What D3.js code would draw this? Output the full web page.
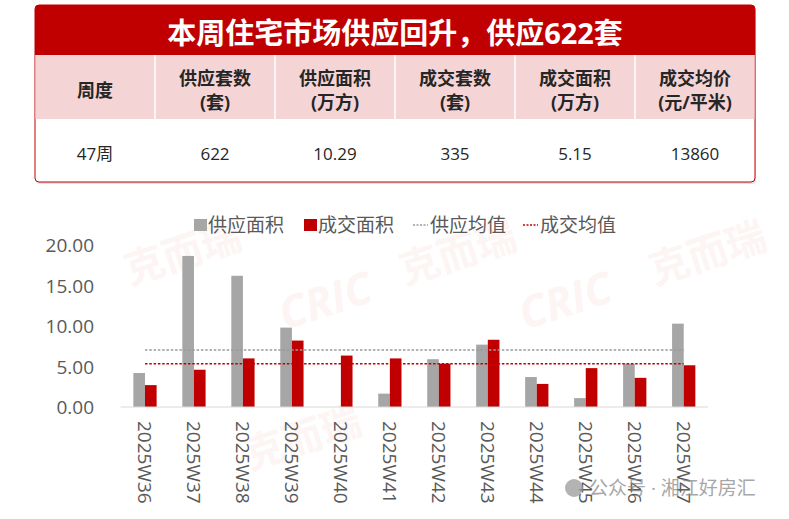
<!doctype html>
<html>
<head>
<meta charset="utf-8"/>
<title>本周住宅市场供应回升</title>
<script src="https://d3js.org/d3.v7.min.js"></script>
<style>
  body { margin: 0; background: #ffffff; }
  text { font-family: "Open Sans", "Noto Sans CJK SC", sans-serif; }
</style>
</head>
<body>
<div id="chart"></div>
<script>
// ---- data ----
var titulo = "本周住宅市场供应回升，供应622套";
var cabecalho1 = ["周度", "供应套数", "供应面积", "成交套数", "成交面积", "成交均价"];
var cabecalho2 = ["", "(套)", "(万方)", "(套)", "(万方)", "(元/平米)"];
var linhaDados = ["47周", "622", "10.29", "335", "5.15", "13860"];

var semanas = ["2025W36", "2025W37", "2025W38", "2025W39", "2025W40", "2025W41",
               "2025W42", "2025W43", "2025W44", "2025W45", "2025W46", "2025W47"];
var fornecimento = [4.2, 18.65, 16.2, 9.8, 0, 1.65, 5.9, 7.7, 3.7, 1.1, 5.35, 10.29];
var transacao = [2.7, 4.6, 6.0, 8.2, 6.35, 6.0, 5.35, 8.3, 2.85, 4.8, 3.6, 5.15];
var series = ["供应面积", "成交面积"];
var mediaNomes = ["供应均值", "成交均值"];
var yTicks = [0, 5, 10, 15, 20];

var vermelho = "#C00000", cinza = "#A6A6A6", texto = "#595959";

var svg = d3.select("#chart").append("svg")
  .attr("width", 789).attr("height", 519);

// ---- watermark (faint) ----
var marcas = [[130, 285, "克而瑞"], [285, 330, "CRIC"], [405, 285, "克而瑞"],
              [525, 330, "CRIC"], [655, 285, "克而瑞"], [390, 150, "CRIC"], [560, 140, "克而瑞"],
              [60, 155, "CRIC"], [250, 470, "克而瑞"]];
svg.append("g").selectAll("text").data(marcas).enter().append("text")
  .attr("transform", function(d) { return "translate(" + d[0] + "," + d[1] + ") rotate(-18)"; })
  .attr("font-size", function(d) { return d[2] == "CRIC" ? 44 : 40; })
  .attr("font-weight", "bold")
  .attr("font-style", function(d) { return d[2] == "CRIC" ? "italic" : "normal"; })
  .attr("fill", "#e23b3b").attr("opacity", 0.05)
  .text(function(d) { return d[2]; });

// ---- table ----
var tx = 35, ty = 5, tw = 720, colW = tw / 6;
var tabela = svg.append("g");
tabela.append("rect").attr("x", tx + 1).attr("y", ty + 2).attr("width", tw).attr("height", 177)
  .attr("rx", 4).attr("fill", "#e0e0e0");
tabela.append("rect").attr("x", tx).attr("y", ty).attr("width", tw).attr("height", 177)
  .attr("rx", 4).attr("fill", "#ffffff").attr("stroke", vermelho).attr("stroke-width", 1);
tabela.append("path")
  .attr("d", "M" + tx + "," + (ty + 50) + "V" + (ty + 4) + "Q" + tx + "," + ty + " " + (tx + 4) + "," + ty +
             "H" + (tx + tw - 4) + "Q" + (tx + tw) + "," + ty + " " + (tx + tw) + "," + (ty + 4) + "V" + (ty + 50) + "Z")
  .attr("fill", vermelho);
tabela.append("rect").attr("x", tx + 0.5).attr("y", ty + 50).attr("width", tw - 1).attr("height", 64)
  .attr("fill", "#F5D4D6");
tabela.append("text").attr("x", tx + tw / 2).attr("y", ty + 27)
  .attr("text-anchor", "middle").attr("dominant-baseline", "central")
  .attr("font-size", 29).attr("font-weight", "bold").attr("fill", "#ffffff")
  .text(titulo);

var colX = d3.range(6).map(function(i) { return tx + colW * i + colW / 2; });
tabela.selectAll(".div").data(d3.range(1, 6)).enter().append("line")
  .attr("x1", function(i) { return tx + colW * i; }).attr("x2", function(i) { return tx + colW * i; })
  .attr("y1", ty + 50).attr("y2", ty + 114)
  .attr("stroke", "#ffffff").attr("stroke-width", 1.5);

cabecalho1.forEach(function(h, i) {
  var dois = cabecalho2[i] != "";
  tabela.append("text").attr("x", colX[i]).attr("y", dois ? 78 : 90)
    .attr("text-anchor", "middle").attr("dominant-baseline", "central")
    .attr("font-size", 18).attr("font-weight", "bold").attr("fill", "#262626").text(h);
  if (dois) {
    tabela.append("text").attr("x", colX[i]).attr("y", 102)
      .attr("text-anchor", "middle").attr("dominant-baseline", "central")
      .attr("font-size", 18).attr("font-weight", "bold").attr("fill", "#262626").text(cabecalho2[i]);
  }
  tabela.append("text").attr("x", colX[i]).attr("y", 153)
    .attr("text-anchor", "middle").attr("dominant-baseline", "central")
    .attr("font-size", 17).attr("fill", "#262626").text(linhaDados[i]);
});

// ---- chart ----
var x = d3.scaleBand().domain(semanas).range([120.5, 708.2]).paddingInner(0.525).paddingOuter(0.2625);
var xs = d3.scaleBand().domain(series).range([0, x.bandwidth()]);
var y = d3.scaleLinear().domain([0, 20]).range([407, 245]);

var grafico = svg.append("g");

// y labels
grafico.selectAll(".ylab").data(yTicks).enter().append("text")
  .attr("x", 94).attr("y", function(d) { return y(d); })
  .attr("text-anchor", "end").attr("dominant-baseline", "central")
  .attr("font-size", 19).attr("fill", texto)
  .text(function(d) { return d3.format(".2f")(d); });

// bars
var dados = semanas.map(function(s, i) { return { sem: s, v: [fornecimento[i], transacao[i]] }; });
var grupos = grafico.selectAll(".grp").data(dados).enter().append("g")
  .attr("transform", function(d) { return "translate(" + x(d.sem) + ",0)"; });
grupos.selectAll("rect").data(function(d) { return d.v.map(function(v, j) { return { s: series[j], v: v }; }); })
  .enter().append("rect")
  .attr("x", function(d) { return xs(d.s); })
  .attr("width", xs.bandwidth())
  .attr("y", function(d) { return y(d.v); })
  .attr("height", function(d) { return y(0) - y(d.v); })
  .attr("fill", function(d) { return d.s == series[0] ? cinza : vermelho; });

// baseline
grafico.append("line").attr("x1", 120.5).attr("x2", 708.2).attr("y1", y(0)).attr("y2", y(0))
  .attr("stroke", "#D9D9D9").attr("stroke-width", 1);

// average lines
var medias = [d3.mean(fornecimento), d3.mean(transacao)];
var centro = function(s) { return x(s) + x.bandwidth() / 2; };
grafico.selectAll(".media").data(medias).enter().append("line")
  .attr("x1", centro(semanas[0])).attr("x2", centro(semanas[semanas.length - 1]))
  .attr("y1", function(d) { return y(d); }).attr("y2", function(d) { return y(d); })
  .attr("stroke", function(d, i) { return i == 0 ? "#9a9a9a" : vermelho; })
  .attr("stroke-width", 1.5).attr("stroke-dasharray", "2.5,1.8");

// x labels
grafico.selectAll(".xlab").data(semanas).enter().append("text")
  .attr("transform", function(d) { return "translate(" + centro(d) + ",421) rotate(90)"; })
  .attr("text-anchor", "start").attr("dominant-baseline", "central")
  .attr("font-size", 19).attr("fill", texto)
  .text(function(d) { return d; });

// legend
var leg = svg.append("g");
var legX = [194, 304, 413, 523];
leg.append("rect").attr("x", legX[0]).attr("y", 219).attr("width", 13).attr("height", 12).attr("fill", cinza);
leg.append("rect").attr("x", legX[1]).attr("y", 219).attr("width", 13).attr("height", 12).attr("fill", vermelho);
leg.append("line").attr("x1", legX[2]).attr("x2", legX[2] + 15).attr("y1", 225).attr("y2", 225)
  .attr("stroke", "#9a9a9a").attr("stroke-width", 1.5).attr("stroke-dasharray", "2,1.5");
leg.append("line").attr("x1", legX[3]).attr("x2", legX[3] + 15).attr("y1", 225).attr("y2", 225)
  .attr("stroke", vermelho).attr("stroke-width", 1.5).attr("stroke-dasharray", "2,1.5");
var legNomes = series.concat(mediaNomes);
leg.selectAll(".lt").data(legNomes).enter().append("text")
  .attr("x", function(d, i) { return legX[i] + (i < 2 ? 14 : 17); }).attr("y", 225)
  .attr("dominant-baseline", "central").attr("font-size", 19).attr("fill", texto)
  .text(function(d) { return d; });

// bottom-right account mark
var conta = svg.append("g").attr("opacity", 0.75);
conta.append("circle").attr("cx", 574).attr("cy", 488).attr("r", 9).attr("fill", "#9a9a9a");
conta.append("text").attr("x", 589).attr("y", 488).attr("dominant-baseline", "central")
  .attr("font-size", 19).attr("fill", "#8a8a8a").text("公众号 · 湘江好房汇");
</script>
</body>
</html>
